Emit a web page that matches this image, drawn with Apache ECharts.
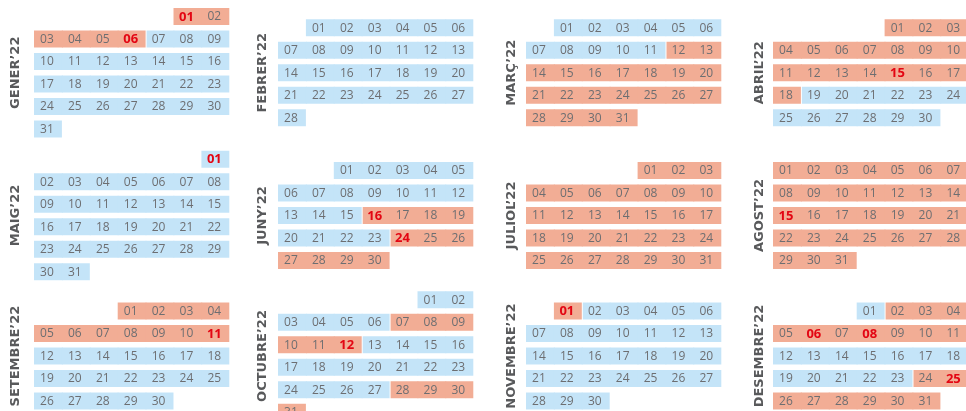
<!DOCTYPE html>
<html>
<head>
<meta charset="utf-8">
<title>Calendari escolar 2022</title>
<style>
  html, body { margin: 0; padding: 0; background: #fff; }
  #main { width: 966px; height: 411px; }
</style>
<script src="https://cdn.jsdelivr.net/npm/echarts@6/dist/echarts.min.js"></script>
</head>
<body>
<div id="main"></div>
<script>
// month names, year
const monthNames = ['GENER', 'FEBRER', 'MARÇ', 'ABRIL', 'MAIG', 'JUNY', 'JULIOL', 'AGOST', 'SETEMBRE', 'OCTUBRE', 'NOVEMBRE', 'DESEMBRE'];
const year = 2022;
const yearSuffix = '’22';
// no-school periods (salmon cells)
const holidayRanges = [
    ['2022-01-01', '2022-01-06'],
    ['2022-03-12', '2022-04-18'],
    ['2022-06-16', '2022-06-19'],
    ['2022-06-24', '2022-09-11'],
    ['2022-10-07', '2022-10-12'],
    ['2022-10-28', '2022-11-01'],
    ['2022-12-02', '2022-12-11'],
    ['2022-12-24', '2022-12-31']
];
// public holidays (red bold numbers)
const festius = ['2022-01-01', '2022-01-06', '2022-04-15', '2022-05-01', '2022-06-16', '2022-06-24',
    '2022-08-15', '2022-09-11', '2022-10-12', '2022-11-01', '2022-12-06', '2022-12-08', '2022-12-25'];

(function () {
    let chartDom = document.getElementById('main');
    let myChart = echarts.init(chartDom);

    // layout of the 4x3 month grid
    const colLeft = [34, 278, 526, 773];
    const labelX = [16, 263, 512, 760];
    const rowCenter = [72.75, 215.5, 356];
    const cellW = 27.9, cellH = 22.5, barH = 17;
    const blue = '#c4e4f8', salmon = '#f2ad95';

    function pad(n) { return n < 10 ? '0' + n : '' + n; }
    function inRanges(ds) {
        return holidayRanges.some(function (r) { return ds >= r[0] && ds <= r[1]; });
    }

    let calendars = [], series = [], graphics = [];

    monthNames.forEach(function (name, m) {
        let days = new Date(year, m + 1, 0).getDate();
        let offset = (new Date(year, m, 1).getDay() + 6) % 7; // monday first
        let weeks = Math.ceil((offset + days) / 7);
        let col = m % 4, row = Math.floor(m / 4);

        let data = [];
        for (let d = 1; d <= days; d++) {
            let ds = year + '-' + pad(m + 1) + '-' + pad(d);
            data.push([ds, d, inRanges(ds) ? 1 : 0, festius.indexOf(ds) > -1 ? 1 : 0, (offset + d - 1) % 7]);
        }

        calendars.push({
            orient: 'vertical',
            range: year + '-' + pad(m + 1),
            left: colLeft[col],
            top: rowCenter[row] - weeks * cellH / 2,
            cellSize: [cellW, cellH],
            dayLabel: { show: false, firstDay: 1 },
            monthLabel: { show: false },
            yearLabel: { show: false },
            splitLine: { show: false },
            itemStyle: { color: 'transparent', borderWidth: 0 }
        });

        series.push({
            type: 'custom',
            coordinateSystem: 'calendar',
            calendarIndex: m,
            data: data,
            renderItem: function (params, api) {
                let p = api.coord([api.value(0)]);
                let w = params.coordSys.cellWidth;
                let item = data[params.dataIndex];
                let prev = data[params.dataIndex - 1];
                let next = data[params.dataIndex + 1];
                // small white gap where colour changes inside a week
                let gap = (prev && item[4] > 0 && prev[2] !== item[2]) ? 1 : 0;
                // overlap same-coloured neighbours so no seam shows
                let over = (next && item[4] < 6 && next[2] === item[2]) ? 0.8 : 0;
                return {
                    type: 'group',
                    children: [{
                        type: 'rect',
                        shape: { x: p[0] - w / 2 + gap, y: p[1] - barH / 2, width: w - gap + over, height: barH },
                        style: { fill: item[2] ? salmon : blue }
                    }, {
                        type: 'text',
                        style: {
                            x: p[0] - 1, y: p[1] + 0.5,
                            text: pad(item[1]),
                            align: 'center', verticalAlign: 'middle',
                            fill: item[3] ? '#e30613' : '#6d6e71',
                            font: item[3] ? 'bold 13px "Open Sans"' : '12px "Open Sans"'
                        }
                    }]
                };
            }
        });

        // vertical month label
        graphics.push({
            type: 'text',
            x: labelX[col],
            y: rowCenter[row],
            rotation: Math.PI / 2,
            style: {
                text: name + yearSuffix,
                align: 'center', verticalAlign: 'middle',
                fill: '#58595b',
                font: 'bold 13px "DejaVu Sans"'
            }
        });
    });

    let option = {
        animation: false,
        backgroundColor: '#fff',
        calendar: calendars,
        series: series,
        graphic: graphics
    };

    myChart.setOption(option);

    window.addEventListener('resize', function () {
        myChart.resize();
    });
})();
</script>
</body>
</html>
